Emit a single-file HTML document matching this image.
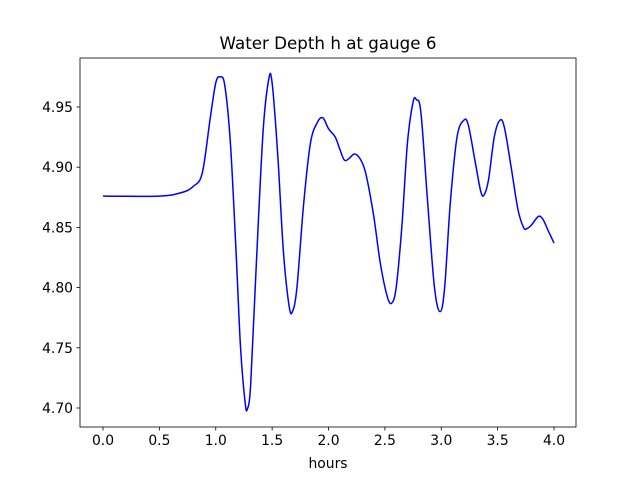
<!DOCTYPE html>
<html><head><meta charset="utf-8"><style>
body{margin:0;background:#fff}
svg text{font-family:"DejaVu Sans","Liberation Sans",sans-serif;font-size:13.9px;fill:#000}
</style></head><body>
<svg id="chart" width="640" height="480">
<rect width="640" height="480" fill="#fff"/>
<text x="328" y="49" text-anchor="middle" style="font-size:16.7px">Water Depth h at gauge 6</text>
<text x="328" y="468" text-anchor="middle">hours</text>
<g id="ticks"></g>
<path id="line" fill="none" stroke="#0000ff" stroke-width="1.5"/>
<rect x="80" y="58" width="496" height="369" fill="none" stroke="#000" stroke-width="0.8"/>
</svg>
<script>
const hours=[0,0.5,0.7,0.8,0.88,0.95,1.0,1.04,1.08,1.13,1.18,1.22,1.26,1.28,1.31,1.36,1.42,1.47,1.5,1.55,1.6,1.65,1.68,1.72,1.78,1.84,1.9,1.95,2.0,2.06,2.1,2.14,2.18,2.23,2.28,2.33,2.4,2.46,2.52,2.56,2.6,2.65,2.7,2.75,2.78,2.82,2.88,2.94,2.99,3.03,3.08,3.14,3.2,3.24,3.3,3.35,3.38,3.42,3.47,3.52,3.56,3.62,3.68,3.73,3.76,3.8,3.86,3.9,3.95,4.0];
const depth=[4.876,4.876,4.879,4.884,4.895,4.94,4.97,4.975,4.968,4.92,4.83,4.75,4.705,4.699,4.72,4.82,4.93,4.973,4.97,4.91,4.83,4.785,4.78,4.80,4.87,4.92,4.937,4.941,4.932,4.925,4.915,4.906,4.907,4.911,4.907,4.895,4.86,4.82,4.793,4.787,4.80,4.85,4.92,4.954,4.956,4.945,4.87,4.80,4.780,4.80,4.87,4.925,4.939,4.935,4.905,4.88,4.877,4.89,4.925,4.939,4.933,4.90,4.865,4.85,4.849,4.852,4.859,4.857,4.847,4.837];
const xTicks=[0,0.5,1,1.5,2,2.5,3,3.5,4];
const yTicks=[4.70,4.75,4.80,4.85,4.90,4.95];
const X=v=>103+v*112.75;
const Y=v=>408-(v-4.70)*1204;
const NS="http://www.w3.org/2000/svg";
const g=document.getElementById('ticks');
function mk(t,a){const e=document.createElementNS(NS,t);for(const k in a)e.setAttribute(k,a[k]);g.appendChild(e);return e;}
xTicks.forEach(v=>{
 const l=mk('line',{x1:X(v),x2:X(v),y1:427,y2:430.5,stroke:'#000','stroke-width':0.8});
 
 
 const t=mk('text',{x:X(v),y:445,'text-anchor':'middle'});t.textContent=v.toFixed(1);
 
 
});
yTicks.forEach(v=>{
 const l=mk('line',{x1:76.5,x2:80,y1:Y(v),y2:Y(v),stroke:'#000','stroke-width':0.8});
 
 
 const t=mk('text',{x:73,y:Y(v)+5,'text-anchor':'end'});t.textContent=v.toFixed(2);
 
 
});
const P=hours.map((h,i)=>[X(h),Y(depth[i])]);
let d='M'+P[0][0]+','+P[0][1];
for(let i=0;i<P.length-1;i++){
 const p0=P[Math.max(i-1,0)],p1=P[i],p2=P[i+1],p3=P[Math.min(i+2,P.length-1)];
 const c1=[p1[0]+(p2[0]-p0[0])/6,p1[1]+(p2[1]-p0[1])/6];
 const c2=[p2[0]-(p3[0]-p1[0])/6,p2[1]-(p3[1]-p1[1])/6];
 d+=`C${c1[0]},${c1[1]} ${c2[0]},${c2[1]} ${p2[0]},${p2[1]}`;
}
document.getElementById('line').setAttribute('d',d);
</script>
</body></html>
